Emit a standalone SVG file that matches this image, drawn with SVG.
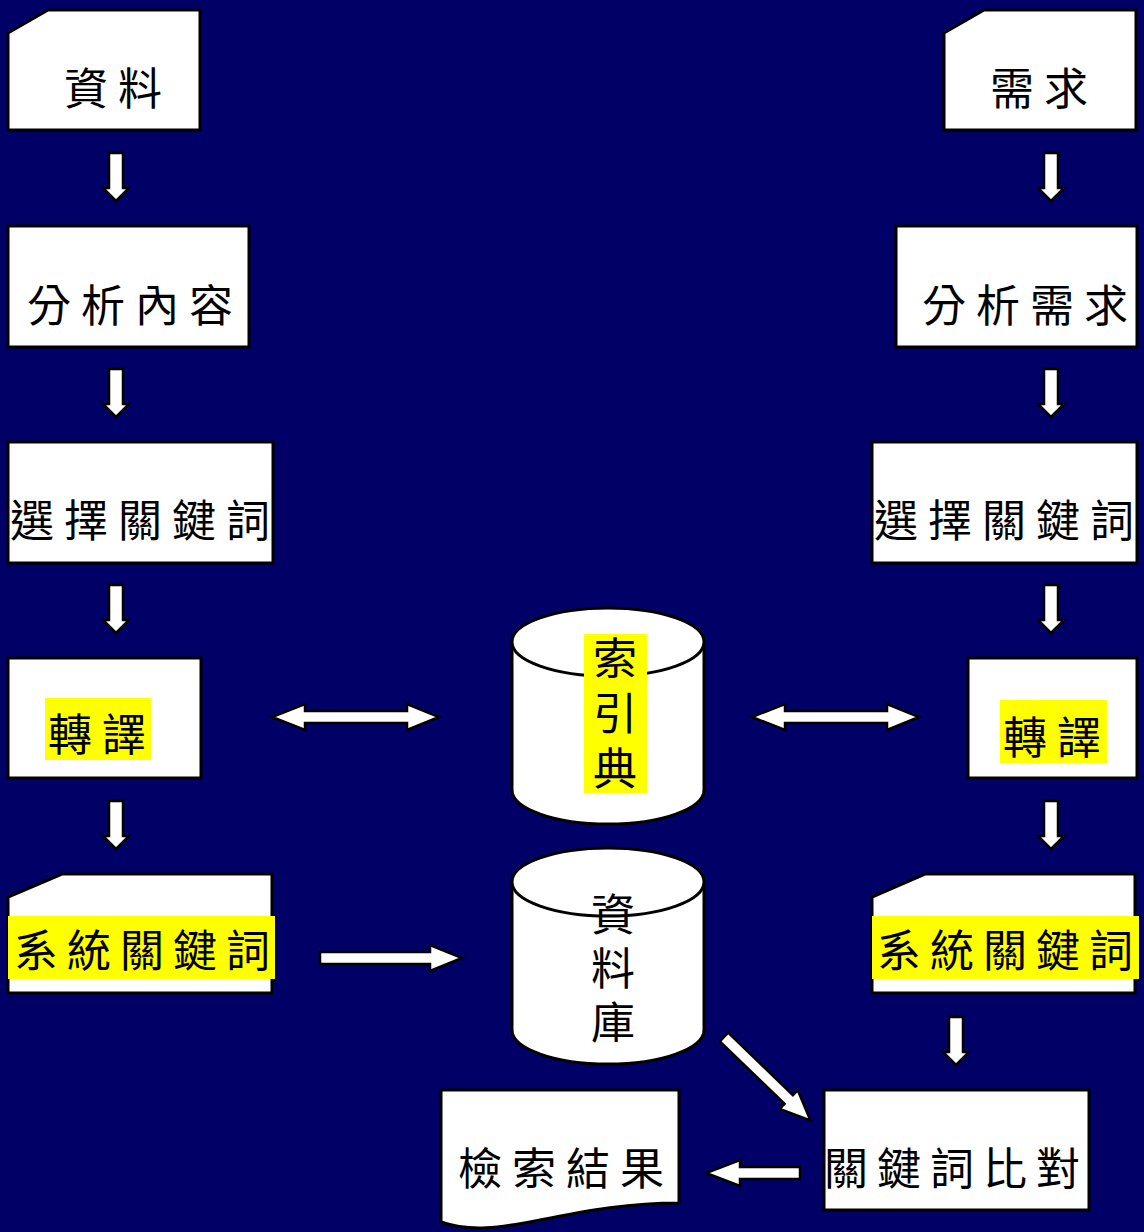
<svg xmlns="http://www.w3.org/2000/svg" width="1144" height="1232" viewBox="0 0 1144 1232">
<style>
.box{fill:#fff;stroke:#000;stroke-width:3;stroke-linejoin:miter}
.arr{fill:#fff;stroke:#000;stroke-width:2.5;stroke-linejoin:miter}
.hl{fill:#ffff00}
.t{font-family:"Noto Sans CJK TC","Noto Sans CJK SC",sans-serif;font-size:44px;fill:#000;letter-spacing:10px}
.v{font-family:"Noto Sans CJK TC","Noto Sans CJK SC",sans-serif;font-size:44px;fill:#000;writing-mode:vertical-rl;letter-spacing:10px}
</style>
<defs>
<path id="down" d="M-7,0 H7 V35 H13 L0,48 L-13,35 H-7 Z"/>
<path id="right" d="M0,-6 H110 V-13 L142,0 L110,13 V6 H0 Z"/>
<path id="dbl" d="M0,0 L33,-13 V-6 H135 V-13 L167,0 L135,13 V6 H33 V13 Z"/>
</defs>
<rect width="1144" height="1232" fill="#000066"/>

<g id="connectors">
<use href="#down" class="arr" x="116" y="153"/>
<use href="#down" class="arr" x="116" y="369"/>
<use href="#down" class="arr" x="116" y="585"/>
<use href="#down" class="arr" x="116" y="801"/>
<use href="#down" class="arr" x="1051" y="153"/>
<use href="#down" class="arr" x="1051" y="369"/>
<use href="#down" class="arr" x="1051" y="585"/>
<use href="#down" class="arr" x="1051" y="801"/>
<use href="#down" class="arr" x="956" y="1017"/>
<use href="#dbl" class="arr" x="272" y="717"/>
<use href="#dbl" class="arr" x="752" y="717"/>
<use href="#right" class="arr" x="320" y="958"/>
<path class="arr" d="M0,-6 H90 V-13 L120,0 L90,13 V6 H0 Z" transform="translate(724,1037) rotate(44)"/>
<path class="arr" d="M800,1167 H740 V1160 L706,1173 L740,1186 V1179 H800 Z"/>
</g>

<g id="n-data">
<path class="box" d="M8,33 L48,10 H200 V130 H8 Z"/>
<text class="t" x="64" y="105">資料</text>
</g>
<g id="n-analyze-content">
<rect class="box" x="8" y="226" width="241" height="121"/>
<text class="t" x="27" y="322">分析內容</text>
</g>
<g id="n-select-left">
<rect class="box" x="8" y="442" width="265" height="121"/>
<text class="t" x="10" y="537">選擇關鍵詞</text>
</g>
<g id="n-translate-left">
<rect class="box" x="8" y="658" width="193" height="120"/>
<rect class="hl" x="45" y="698" width="106" height="62"/>
<text class="t" x="48" y="751">轉譯</text>
</g>
<g id="n-syskw-left">
<path class="box" d="M8,897 L62,874 H272 V993 H8 Z"/>
<rect class="hl" x="8" y="916" width="267" height="63"/>
<text class="t" x="14" y="967" style="letter-spacing:9px">系統關鍵詞</text>
</g>

<g id="n-need">
<path class="box" d="M944,33 L984,10 H1136 V130 H944 Z"/>
<text class="t" x="990" y="105">需求</text>
</g>
<g id="n-analyze-need">
<rect class="box" x="896" y="226" width="241" height="121"/>
<text class="t" x="922" y="322">分析需求</text>
</g>
<g id="n-select-right">
<rect class="box" x="872" y="442" width="265" height="121"/>
<text class="t" x="874" y="537">選擇關鍵詞</text>
</g>
<g id="n-translate-right">
<rect class="box" x="968" y="658" width="169" height="120"/>
<rect class="hl" x="1000" y="700" width="107" height="63"/>
<text class="t" x="1003" y="754">轉譯</text>
</g>
<g id="n-syskw-right">
<path class="box" d="M872,897 L925,874 H1135 V993 H872 Z"/>
<rect class="hl" x="872" y="916" width="267" height="63"/>
<text class="t" x="877" y="967" style="letter-spacing:9px">系統關鍵詞</text>
</g>

<g id="n-thesaurus">
<path class="box" d="M512,642 A96,34 0 0 1 704,642 V790 A96,34 0 0 1 512,790 Z"/>
<path class="box" fill="none" d="M512,642 A96,34 0 0 0 704,642"/>
<rect class="hl" x="584" y="634" width="63" height="159"/>
<text class="v" x="615" y="636" style="letter-spacing:11px">索引典</text>
</g>
<g id="n-database">
<path class="box" d="M512,882 A96,34 0 0 1 704,882 V1030 A96,34 0 0 1 512,1030 Z"/>
<path class="box" fill="none" d="M512,882 A96,34 0 0 0 704,882"/>
<text class="v" x="613" y="892">資料庫</text>
</g>
<g id="n-match">
<rect class="box" x="824" y="1090" width="265" height="120"/>
<text class="t" x="824" y="1185" style="letter-spacing:9px">關鍵詞比對</text>
</g>
<g id="n-result">
<path class="box" d="M441,1090 H679 V1203 C630,1203 590,1210 540,1220 C500,1228 470,1232 441,1222 Z"/>
<text class="t" x="458" y="1185" style="letter-spacing:10px">檢索結果</text>
</g>
</svg>
